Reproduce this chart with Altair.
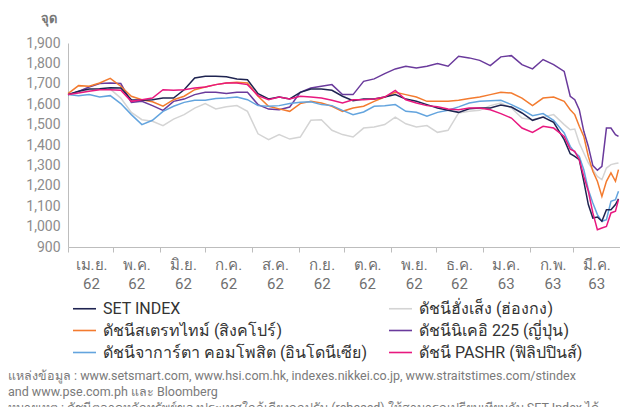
import altair as alt
import pandas as pd

dates = ["2019-04-01", "2019-04-08", "2019-04-15", "2019-04-22", "2019-04-29", "2019-05-06",
         "2019-05-13", "2019-05-20", "2019-05-27", "2019-06-03", "2019-06-10", "2019-06-17",
         "2019-06-24", "2019-07-01", "2019-07-08", "2019-07-15", "2019-07-22", "2019-07-29",
         "2019-08-05", "2019-08-12", "2019-08-19", "2019-08-26", "2019-09-02", "2019-09-09",
         "2019-09-16", "2019-09-23", "2019-09-30", "2019-10-07", "2019-10-14", "2019-10-21",
         "2019-10-28", "2019-11-04", "2019-11-11", "2019-11-18", "2019-11-25", "2019-12-02",
         "2019-12-09", "2019-12-16", "2019-12-23", "2019-12-30", "2020-01-06", "2020-01-13",
         "2020-01-20", "2020-01-27", "2020-02-03", "2020-02-10", "2020-02-17", "2020-02-24",
         "2020-02-28", "2020-03-02", "2020-03-05", "2020-03-08", "2020-03-11", "2020-03-14",
         "2020-03-17", "2020-03-20", "2020-03-23", "2020-03-26", "2020-03-29", "2020-03-31"]

set_index = [1647, 1663, 1674, 1676, 1681, 1679, 1622, 1619, 1622, 1630, 1630, 1671,
             1729, 1737, 1737, 1734, 1724, 1720, 1652, 1626, 1635, 1626, 1658, 1674,
             1674, 1668, 1639, 1617, 1625, 1625, 1635, 1647, 1625, 1614, 1598, 1581,
             1570, 1560, 1578, 1581, 1581, 1596, 1586, 1557, 1521, 1537, 1511, 1426,
             1357, 1344, 1328, 1222, 1108, 1042, 1047, 1026, 1083, 1083, 1108, 1136]

hang_seng = [1647, 1658, 1668, 1674, 1674, 1630, 1560, 1524, 1516, 1495, 1527, 1549,
             1581, 1603, 1577, 1587, 1593, 1565, 1455, 1426, 1451, 1429, 1439, 1521,
             1524, 1472, 1451, 1439, 1483, 1488, 1500, 1537, 1504, 1488, 1495, 1462,
             1472, 1557, 1565, 1570, 1593, 1606, 1581, 1532, 1524, 1537, 1549, 1500,
             1475, 1478, 1410, 1361, 1312, 1279, 1246, 1230, 1287, 1304, 1309, 1312]

straits_times = [1652, 1691, 1688, 1704, 1727, 1688, 1639, 1622, 1612, 1590, 1622, 1639,
                 1671, 1684, 1696, 1704, 1707, 1704, 1639, 1590, 1577, 1565, 1603, 1614,
                 1606, 1590, 1565, 1581, 1590, 1614, 1635, 1658, 1647, 1635, 1614, 1614,
                 1614, 1619, 1628, 1635, 1647, 1658, 1655, 1630, 1593, 1630, 1635, 1614,
                 1573, 1549, 1492, 1442, 1344, 1271, 1222, 1148, 1222, 1263, 1222, 1279]

nikkei = [1647, 1663, 1684, 1701, 1704, 1701, 1609, 1614, 1593, 1570, 1614, 1625,
          1647, 1658, 1658, 1652, 1658, 1658, 1598, 1576, 1573, 1586, 1658, 1679,
          1688, 1696, 1647, 1647, 1712, 1724, 1750, 1773, 1786, 1777, 1786, 1799,
          1786, 1835, 1827, 1815, 1789, 1832, 1838, 1794, 1773, 1819, 1794, 1761,
          1639, 1622, 1573, 1467, 1393, 1299, 1276, 1295, 1483, 1483, 1451, 1442]

jakarta = [1647, 1642, 1647, 1635, 1642, 1603, 1549, 1500, 1521, 1565, 1590, 1609,
           1619, 1619, 1628, 1630, 1635, 1622, 1593, 1590, 1593, 1603, 1609, 1612,
           1598, 1593, 1570, 1549, 1562, 1590, 1593, 1598, 1565, 1560, 1541, 1560,
           1570, 1587, 1606, 1614, 1617, 1619, 1598, 1573, 1544, 1554, 1521, 1459,
           1393, 1364, 1344, 1279, 1181, 1116, 1059, 1026, 1034, 1124, 1132, 1173]

pashr = [1647, 1655, 1664, 1671, 1671, 1668, 1614, 1622, 1630, 1671, 1668, 1671,
         1679, 1684, 1696, 1704, 1704, 1696, 1642, 1622, 1635, 1626, 1639, 1635,
         1630, 1619, 1606, 1622, 1622, 1625, 1635, 1668, 1622, 1606, 1593, 1587,
         1577, 1573, 1581, 1581, 1573, 1554, 1532, 1483, 1462, 1492, 1483, 1442,
         1380, 1369, 1328, 1246, 1173, 1067, 985, 993, 1001, 1067, 1075, 1132]

name_set = "SET INDEX"
name_hsi = "ดัชนีฮั่งเส็ง (ฮ่องกง)"
name_sti = "ดัชนีสเตรทไทม์ (สิงคโปร์)"
name_nik = "ดัชนีนิเคอิ 225 (ญี่ปุ่น)"
name_jci = "ดัชนีจาการ์ตา คอมโพสิต (อินโดนีเซีย)"
name_pse = "ดัชนี PASHR (ฟิลิปปินส์)"

# legend is filled column by column: left column first, then right column
legend_order = [name_set, name_sti, name_jci, name_hsi, name_nik, name_pse]
legend_colors = ["#1f2451", "#f37b2f", "#63a4de", "#d4d4d4", "#6a3a9c", "#e8187f"]

# drawing order (bottom to top)
draw_order = [
    (name_hsi, hang_seng),
    (name_nik, nikkei),
    (name_sti, straits_times),
    (name_jci, jakarta),
    (name_set, set_index),
    (name_pse, pashr),
]

rows = []
for name, vals in draw_order:
    for d, v in zip(dates, vals):
        rows.append({"date": d + "T00:00:00", "value": v, "series": name})
df = pd.DataFrame(rows)

note_lines = [
    "แหล่งข้อมูล : www.setsmart.com, www.hsi.com.hk, indexes.nikkei.co.jp, www.straitstimes.com/stindex",
    "and www.pse.com.ph และ Bloomberg",
    "หมายเหตุ : ดัชนีตลาดหลักทรัพย์ของประเทศใกล้เคียงถูกปรับ (rebased) ให้สามารถเปรียบเทียบกับ SET Index ได้",
]

FONT = "Roboto"

tick_values = [alt.DateTime(year=2019 + (m + 3) // 12, month=(m + 3) % 12 + 1, date=1) for m in range(13)]

label_expr = (
    "(year(datum.value) == 2020 && month(datum.value) == 3) ? '' : "
    "[['ม.ค.','ก.พ.','มี.ค.','เม.ย.','พ.ค.','มิ.ย.','ก.ค.','ส.ค.','ก.ย.','ต.ค.','พ.ย.','ธ.ค.'][month(datum.value)], "
    "'' + (year(datum.value) - 1957)]"
)

lines = alt.Chart(df).mark_line(strokeWidth=1.5).encode(
    x=alt.X("date:T",
            scale=alt.Scale(domain=[alt.DateTime(year=2019, month=4, date=1),
                                    alt.DateTime(year=2020, month=4, date=1)]),
            axis=alt.Axis(title=None, values=tick_values, labelExpr=label_expr,
                          labelOffset=23, labelAlign="center", labelFontSize=15,
                          labelColor="#707070", labelFont=FONT, labelLineHeight=19,
                          labelPadding=5, tickSize=5, tickColor="#bdbdbd",
                          domainColor="#bdbdbd", grid=False, labelOverlap=False)),
    y=alt.Y("value:Q",
            scale=alt.Scale(domain=[900, 1900], nice=False, zero=False),
            axis=alt.Axis(title="จุด", titleAngle=0, titleX=-12, titleY=-25,
                          titleAlign="right", titleBaseline="middle",
                          titleFontWeight="bold", titleFontSize=13, titleColor="#777777",
                          titleFont=FONT,
                          values=list(range(900, 2000, 100)), format=",d",
                          labelFontSize=14, labelColor="#8c8c8c", labelFont=FONT,
                          labelPadding=8, ticks=False, domainColor="#bdbdbd", grid=False)),
    color=alt.Color("series:N",
                    scale=alt.Scale(domain=legend_order, range=legend_colors),
                    sort=legend_order,
                    legend=alt.Legend(title=None, orient="none", legendX=4, legendY=253,
                                      columns=2, symbolType="stroke", symbolSize=529,
                                      symbolStrokeWidth=1.6, labelFontSize=16,
                                      labelColor="#333333", labelFont=FONT,
                                      labelLimit=400, rowPadding=1, columnPadding=18,
                                      labelOffset=6)),
)

note_text = alt.Chart(pd.DataFrame({"k": [0]})).mark_text(
    text=note_lines, align="left", baseline="middle", fontSize=12.5, lineHeight=16,
    color="#7a7a7a", font=FONT
).encode(
    x=alt.value(-60),
    y=alt.value(333),
)

chart = alt.layer(lines, note_text).properties(
    width=552, height=204,
    autosize=alt.AutoSizeParams(type="none"),
    padding={"left": 60, "top": 35, "right": 0, "bottom": 160},
).configure_view(stroke=None)

chart.save("out.html", embed_options={"renderer": "svg", "actions": False})
